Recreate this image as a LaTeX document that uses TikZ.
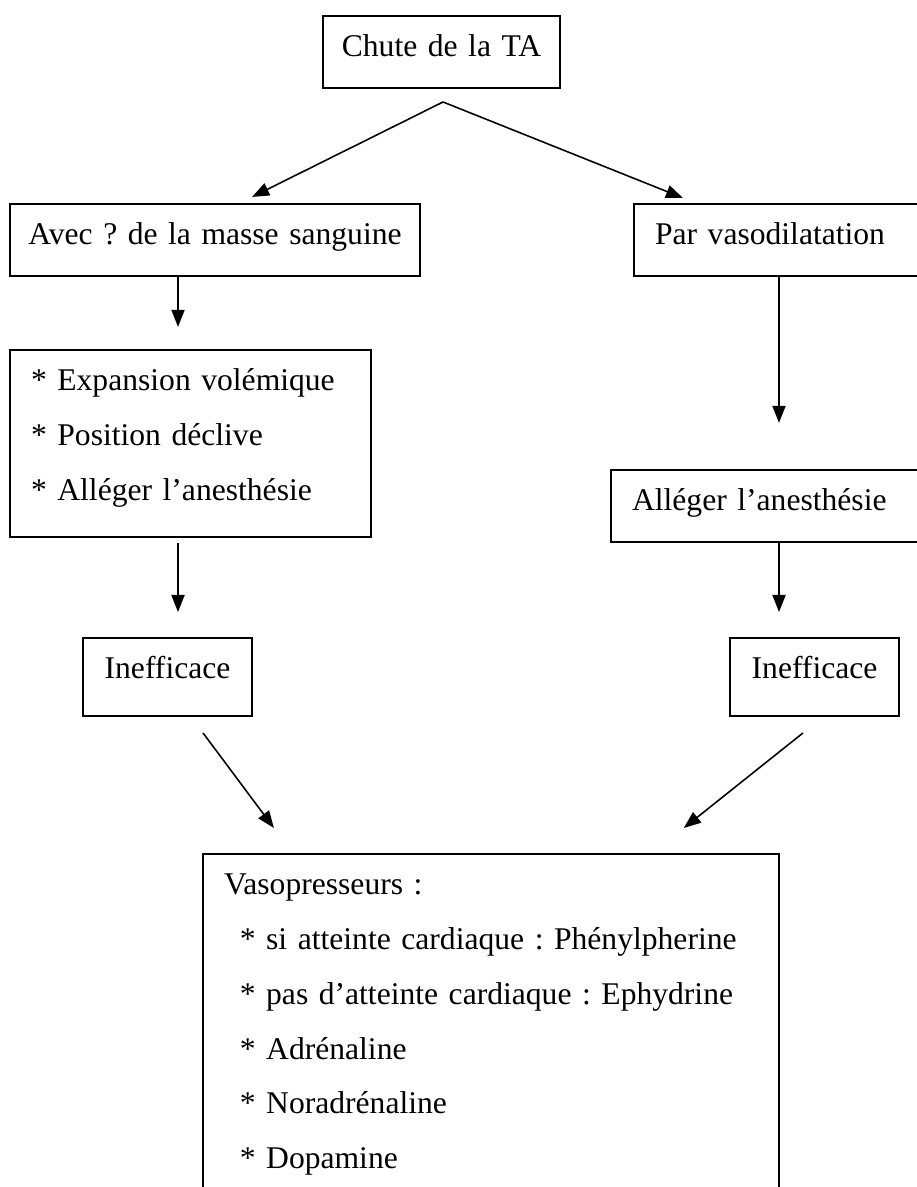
\documentclass[tikz,border=0pt]{standalone}
\usepackage{fontspec}
\setmainfont{Liberation Serif}
\usetikzlibrary{arrows.meta}
\frenchspacing

\begin{document}
\begin{tikzpicture}[x=0.3797pt,y=-0.3797pt,>={Triangle[length=6.5pt,width=5pt]},
                    font=\fontsize{12}{20.88}\selectfont]
\tikzstyle{boite}=[draw=black,line width=0.75pt,anchor=north west,inner ysep=0pt,
                   text height=15.2pt,text depth=12.2pt]
\tikzstyle{centre}=[boite,inner xsep=2pt,align=center]
\tikzstyle{gauche}=[boite,inner xsep=8pt,align=left]
\tikzstyle{fleche}=[->,line width=0.6pt]
\useasboundingbox (0,0) rectangle (916,1187);
\node[centre,text width=86pt] (chute) at (322,15) {Chute de la TA};
\node[centre,text width=151.7pt] (avec) at (9,203) {Avec ? de la masse sanguine};
\node[gauche,text width=97.9pt] (par) at (633,203) {Par vasodilatation};
\node[gauche,text width=121.1pt,text depth=55.8pt] (liste) at (9,349)
     {{*} Expansion volémique\\{*} Position déclive\\{*} Alléger l’anesthésie};
\node[gauche,text width=105.5pt] (alleger) at (610,469) {Alléger l’anesthésie};
\node[centre,text width=60.2pt,text depth=14.4pt] (ineffG) at (82,637) {Inefficace};
\node[centre,text width=60.2pt,text depth=14.4pt] (ineffD) at (729,637) {Inefficace};
\node[gauche,text width=202.7pt,text depth=116.6pt] (vaso) at (202,853)
     {Vasopresseurs :\\
      \hspace*{6pt}* si atteinte cardiaque : Phénylpherine\\
      \hspace*{6pt}* pas d’atteinte cardiaque : Ephydrine\\
      \hspace*{6pt}* Adrénaline\\
      \hspace*{6pt}* Noradrénaline\\
      \hspace*{6pt}* Dopamine};
\coordinate (fourche) at (443,102);
\coordinate (colG) at (178,0);
\coordinate (colD) at (779,0);
\draw[fleche] (fourche) -- ([xshift=92.3pt,yshift=2.3pt]avec.north west);
\draw[fleche] (fourche) -- ([xshift=19pt,yshift=1.9pt]par.north west);
\draw[fleche,shorten >=8.4pt] (avec.south -| colG) -- (liste.north -| colG);
\draw[fleche,shorten >=17.5pt] (par.south -| colD) -- (alleger.north -| colD);
\draw[fleche,shorten <=1.9pt,shorten >=9.5pt] (liste.south -| colG) -- (ineffG.north -| colG);
\draw[fleche,shorten >=9.5pt] (alleger.south -| colD) -- (ineffD.north -| colD);
\draw[fleche] ([xshift=13.5pt,yshift=-6.1pt]ineffG.south) -- ([xshift=27.3pt,yshift=9.5pt]vaso.north west);
\draw[fleche] ([xshift=-4.4pt,yshift=-6.1pt]ineffD.south) -- ([xshift=-36.5pt,yshift=9.5pt]vaso.north east);
\end{tikzpicture}
\end{document}
